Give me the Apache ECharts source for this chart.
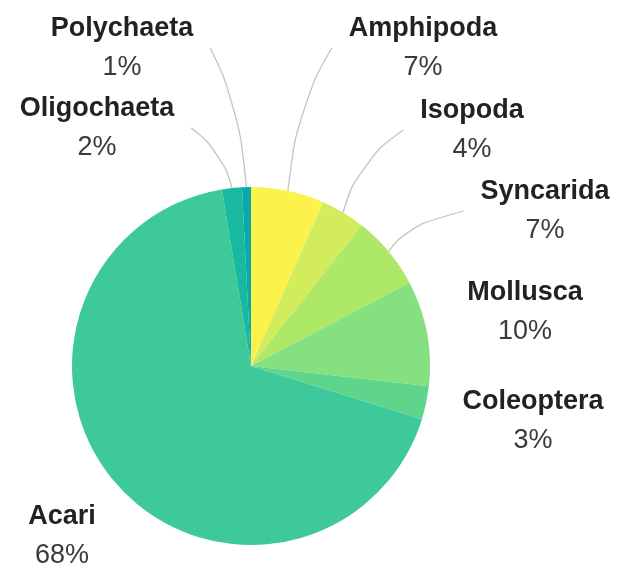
<!DOCTYPE html>
<html lang="en">
<head>
    <meta charset="UTF-8">
    <title>Taxa</title>
    <script src="https://cdn.jsdelivr.net/npm/echarts@6/dist/echarts.min.js"></script>
    <style>
        html, body { margin: 0; padding: 0; background: #fff; }
        #main { width: 619px; height: 568px; }
    </style>
</head>
<body>
<div id="main"></div>
<script>
    // (percent of individuals)
    var taxa = ['Amphipoda', 'Isopoda', 'Syncarida', 'Mollusca', 'Coleoptera', 'Acari', 'Oligochaeta', 'Polychaeta'];
    var shares = [6.6, 4.0, 6.7, 9.5, 3.0, 67.6, 1.8, 0.8];

    var colors = ['#fbf24b', '#d3ec5b', '#ade866', '#85e07f', '#5fd58b', '#3ec99a', '#18b9a0', '#0aa8a8'];
    // where each label block sits (centre)
    var labelPos = {
        'Amphipoda': [423, 48],
        'Isopoda': [472, 130],
        'Syncarida': [545, 211],
        'Mollusca': [525, 312],
        'Coleoptera': [533, 421],
        'Acari': [62, 536],
        'Oligochaeta': [97, 128],
        'Polychaeta': [122, 48]
    };
    var noLine = ['Mollusca', 'Coleoptera', 'Acari'];

    var chart = echarts.init(document.getElementById('main'));

    var data = [];
    for (var i = 0; i < taxa.length; i++) {
        data.push({
            name: taxa[i],
            value: shares[i],
            itemStyle: { color: colors[i] },
            labelLine: { show: noLine.indexOf(taxa[i]) < 0 }
        });
    }

    var option = {
        backgroundColor: '#fff',
        animation: false,
        series: [{
            type: 'pie',
            center: [251, 366],
            radius: 179,
            startAngle: 90,
            clockwise: true,
            data: data,
            itemStyle: { borderWidth: 0 },
            label: {
                show: true,
                position: 'outside',
                overflow: 'none',
                formatter: function (p) {
                    return '{n|' + p.name + '}\n{p|' + Math.round(p.percent) + '%}';
                },
                rich: {
                    n: { fontFamily: 'Liberation Sans', fontWeight: 'bold', fontSize: 27, color: '#222', lineHeight: 39, align: 'center' },
                    p: { fontFamily: 'Liberation Sans', fontSize: 27, color: '#3a3a3a', lineHeight: 39, align: 'center' }
                }
            },
            labelLine: {
                show: true,
                smooth: 0.5,
                length: 20,
                length2: 20,
                lineStyle: { color: '#c4c4c4', width: 1.3 }
            },
            labelLayout: function (params) {
                var pos = labelPos[taxa[params.dataIndex]];
                var out = { x: pos[0], y: pos[1], align: 'center', verticalAlign: 'middle' };
                var pts = params.labelLinePoints;
                if (pts) {
                    var s = pts[0];
                    var half = params.labelRect.width / 2 + 17;
                    var ex = s[0] < pos[0] ? pos[0] - half : pos[0] + half;
                    var e = [ex, pos[1]];
                    out.labelLinePoints = [s, [s[0] + (e[0] - s[0]) * 0.25, s[1] + (e[1] - s[1]) * 0.6], e];
                }
                return out;
            }
        }]
    };
    chart.setOption(option);
</script>
</body>
</html>
